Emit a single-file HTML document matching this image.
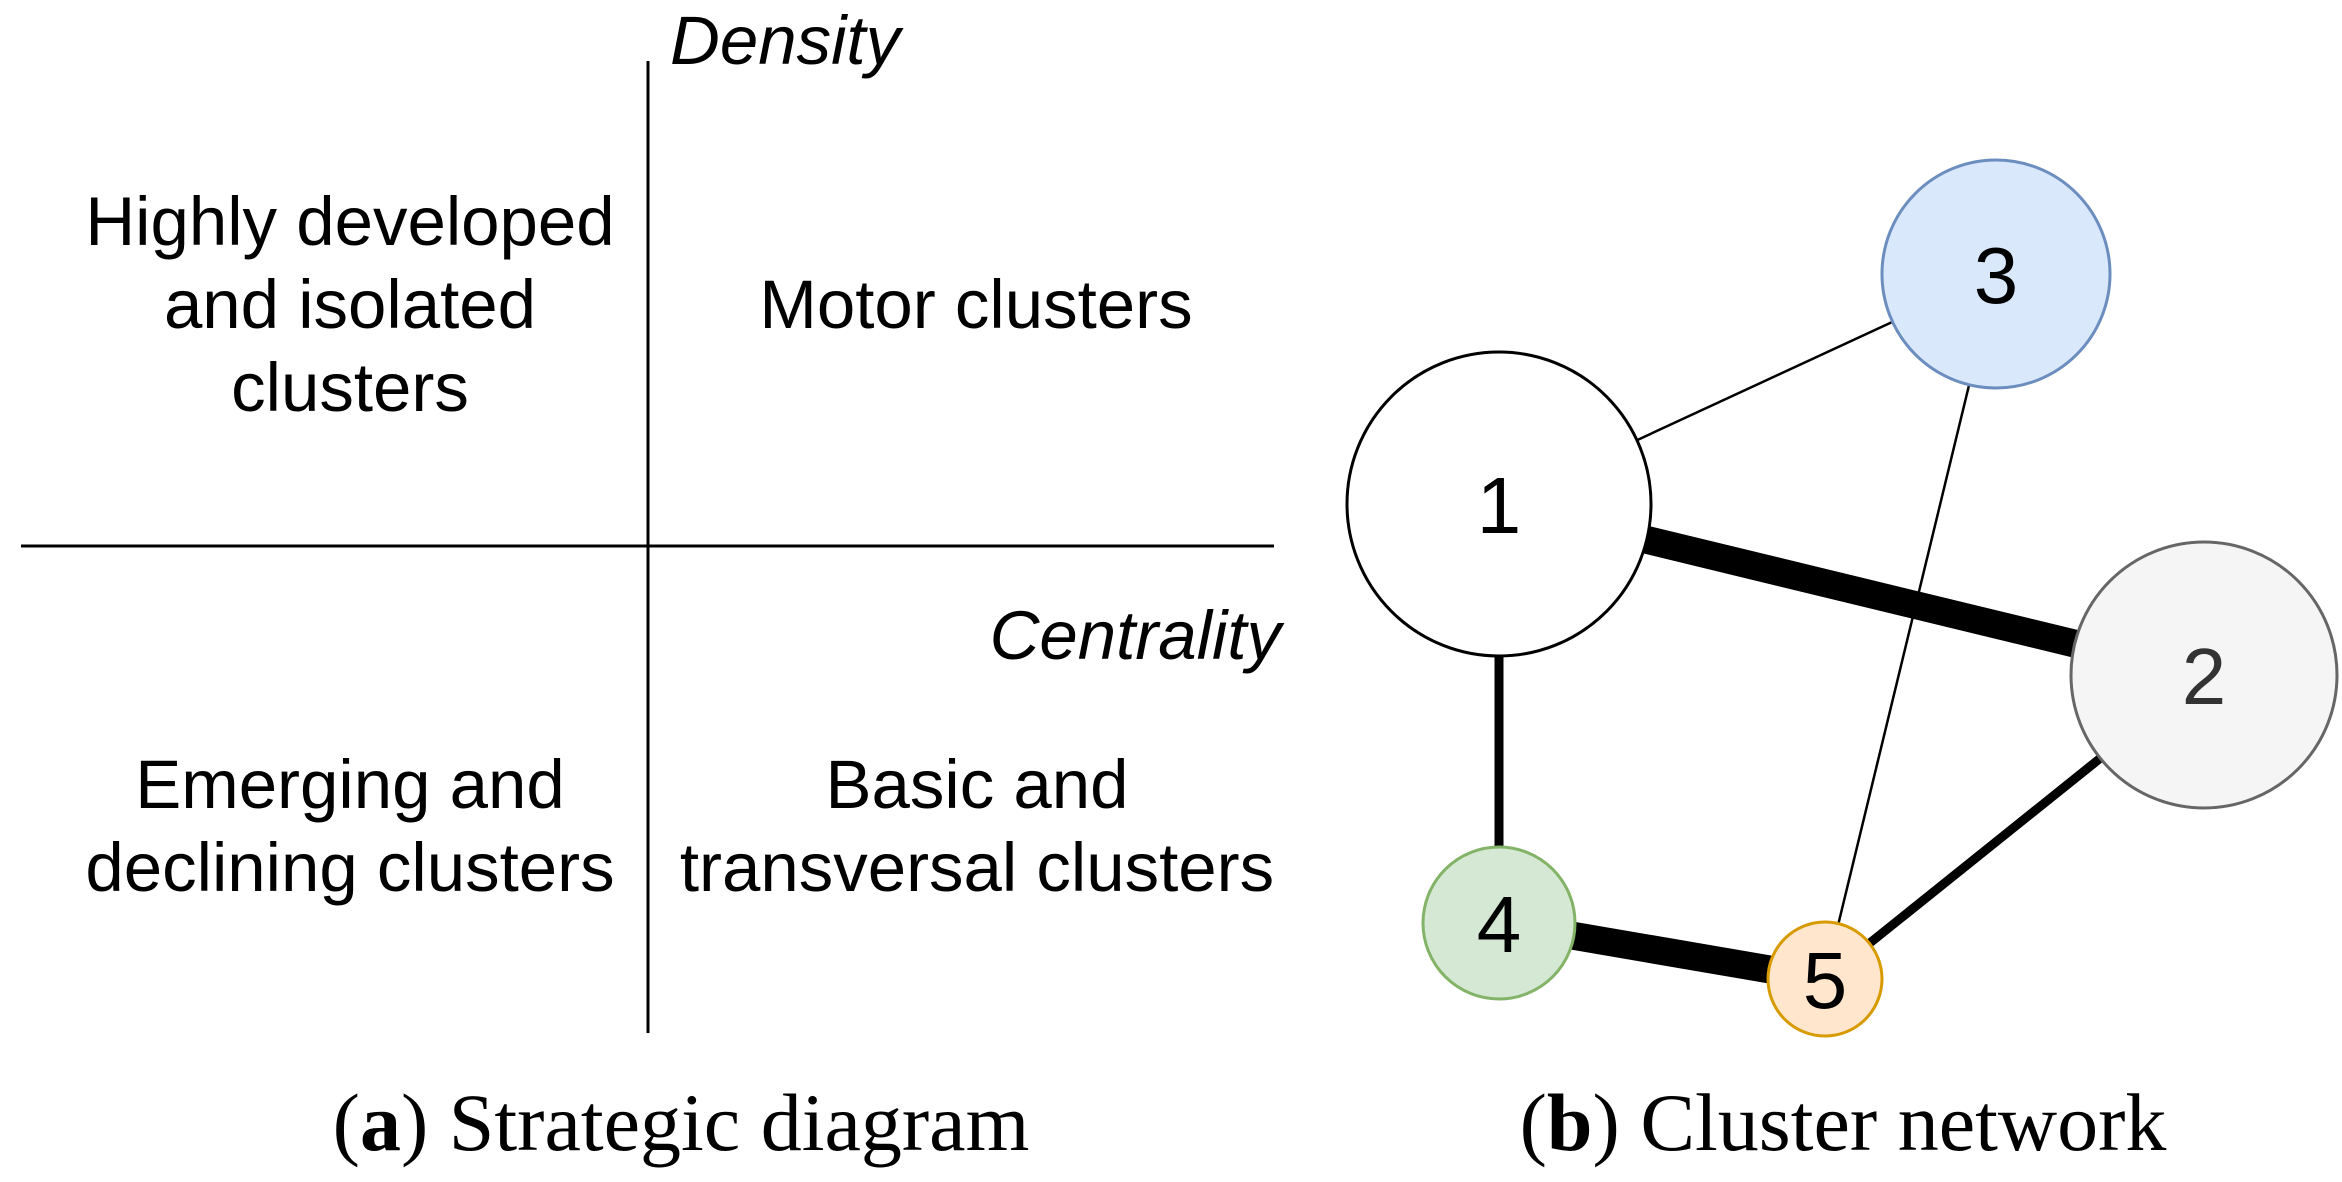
<!DOCTYPE html>
<html><head><style>
html,body{margin:0;padding:0;background:#fff;}
svg{display:block}
</style></head><body>
<svg width="2342" height="1182" viewBox="0 0 2342 1182" xmlns="http://www.w3.org/2000/svg">
<g stroke="#000" stroke-width="3">
<line x1="648" y1="61" x2="648" y2="1033"/>
<line x1="21" y1="546" x2="1274" y2="546"/>
</g>
<g font-family="Liberation Sans, sans-serif" font-size="69" fill="#000" text-anchor="middle">
<text x="350" y="245">Highly developed</text>
<text x="350" y="328">and isolated</text>
<text x="350" y="411">clusters</text>
<text x="976" y="328">Motor clusters</text>
<text x="350" y="808">Emerging and</text>
<text x="350" y="891">declining clusters</text>
<text x="977" y="808">Basic and</text>
<text x="977" y="891">transversal clusters</text>
<text x="670" y="64" text-anchor="start" font-style="italic">Density</text>
<text x="1281" y="659" text-anchor="end" font-style="italic">Centrality</text>
</g>
<g font-family="Liberation Serif, serif" font-size="82" fill="#000" text-anchor="middle">
<text x="681" y="1150">(<tspan font-weight="bold">a</tspan>) Strategic diagram</text>
<text x="1843" y="1150">(<tspan font-weight="bold">b</tspan>) Cluster network</text>
</g>
<g stroke="#000">
<line x1="1499" y1="504" x2="1996" y2="274" stroke-width="2.5"/>
<line x1="1996" y1="274" x2="1825" y2="979" stroke-width="2.5"/>
<line x1="1499" y1="504" x2="2204" y2="675" stroke-width="28"/>
<line x1="1499" y1="923" x2="1825" y2="979" stroke-width="28"/>
<line x1="1499" y1="504" x2="1499" y2="923" stroke-width="9"/>
<line x1="2204" y1="675" x2="1825" y2="979" stroke-width="9"/>
</g>
<circle cx="1499" cy="504" r="152" fill="#fff" stroke="#000" stroke-width="3"/>
<circle cx="1996" cy="274" r="114" fill="#dae8fc" stroke="#6c8ebf" stroke-width="3"/>
<circle cx="2204" cy="675" r="133" fill="#f5f5f5" stroke="#666" stroke-width="3"/>
<circle cx="1499" cy="923" r="76" fill="#d5e8d4" stroke="#82b366" stroke-width="3"/>
<circle cx="1825" cy="979" r="57" fill="#ffe6cc" stroke="#d79b00" stroke-width="3"/>
<g font-family="Liberation Sans, sans-serif" font-size="80" text-anchor="middle">
<text x="1499" y="533" fill="#000">1</text>
<text x="1996" y="303" fill="#000">3</text>
<text x="2204" y="704" fill="#333">2</text>
<text x="1499" y="952" fill="#000">4</text>
<text x="1825" y="1008" fill="#000">5</text>
</g>
</svg>
</body></html>
